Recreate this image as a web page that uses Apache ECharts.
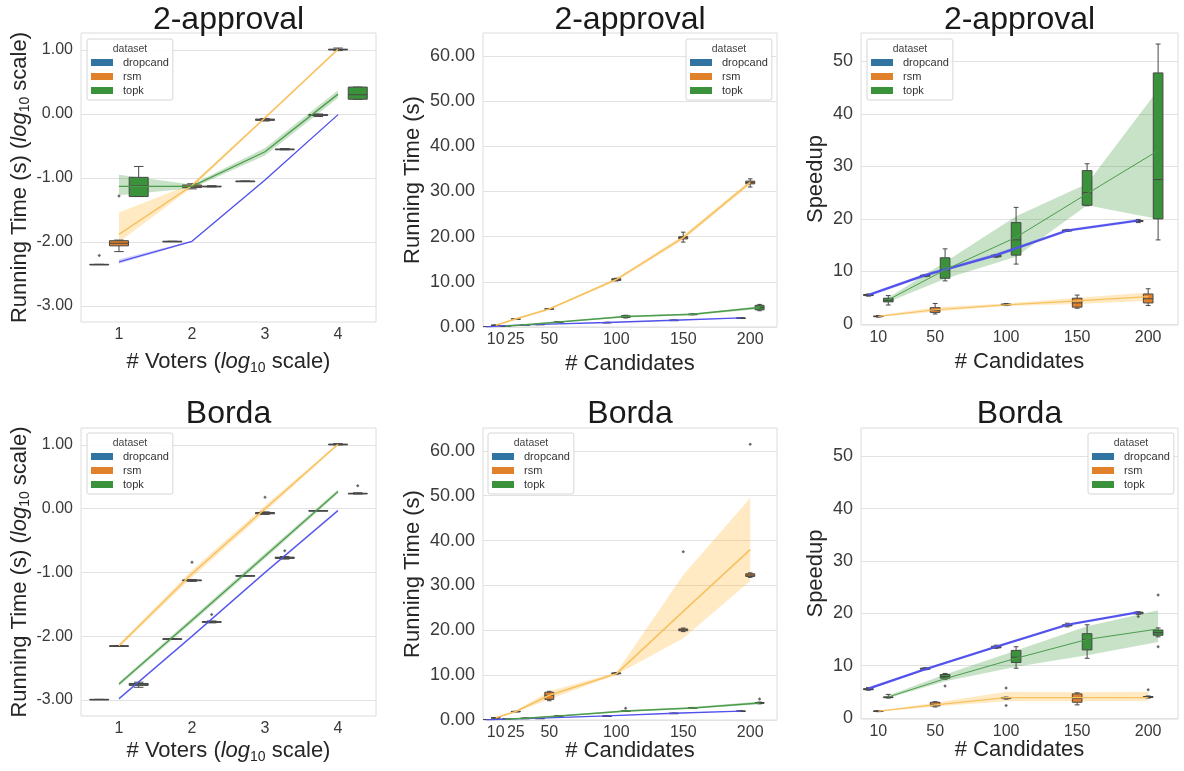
<!DOCTYPE html>
<html><head><meta charset="utf-8">
<script src="https://cdn.jsdelivr.net/npm/echarts@6/dist/echarts.min.js"></script>
<style>html,body{margin:0;padding:0;background:#fff}#c{width:1184px;height:771px}</style>
</head><body><div id="c"></div><script>
const DATASETS = ['dropcand', 'rsm', 'topk'];
const voterTicks = [1, 2, 3, 4];
const candTicks = [10, 25, 50, 100, 150, 200];
const speedTicks = [10, 50, 100, 150, 200];
const logTicks = [-3, -2, -1, 0, 1];
const timeTicks = [0, 10, 20, 30, 40, 50, 60];
const speedupTicks = [0, 10, 20, 30, 40, 50];

// ---- 2-approval, # voters (log10 running time)
const apvVotMean = { dropcand: [-2.31, -1.99, -1.03, -0.01], rsm: [-1.88, -1.12, -0.06, 1.01], topk: [-1.13, -1.13, -0.59, 0.31] };
const apvVotLo = { dropcand: [-2.34, -2.00, -1.04, -0.02], rsm: [-2.00, -1.15, -0.08, 0.99], topk: [-1.27, -1.16, -0.65, 0.25] };
const apvVotHi = { dropcand: [-2.27, -1.98, -1.02, 0.00], rsm: [-1.54, -1.09, -0.04, 1.03], topk: [-0.95, -1.10, -0.53, 0.37] };
const apvVotBox = {
  dropcand: [[-2.35, -2.35, -2.35, -2.35, -2.35], [-1.99, -1.99, -1.99, -1.99, -1.99], [-1.05, -1.05, -1.05, -1.05, -1.05], [-0.04, -0.02, -0.02, -0.01, 0.00]],
  rsm: [[-2.15, -2.06, -2.02, -1.98, -1.97], [-1.17, -1.15, -1.13, -1.11, -1.09], [-0.11, -0.10, -0.09, -0.08, -0.07], [0.99, 1.00, 1.01, 1.01, 1.03]],
  topk: [[-1.29, -1.29, -1.12, -0.99, -0.82], [-1.14, -1.13, -1.13, -1.13, -1.12], [-0.56, -0.55, -0.55, -0.55, -0.54], [0.23, 0.23, 0.30, 0.42, 0.42]]
};
const apvVotOut = { dropcand: [[1, -2.21]], rsm: [[1, -1.28]], topk: [] };

// ---- 2-approval, # candidates (running time)
const apvCandMean = { dropcand: [0.05, 0.30, 0.60, 1.00, 1.50, 2.00], rsm: [0.40, 1.80, 4.00, 10.50, 19.80, 32.00], topk: [0.15, 0.50, 1.10, 2.30, 2.80, 4.30] };
const apvCandLo = { dropcand: [0.03, 0.27, 0.55, 0.94, 1.44, 1.94], rsm: [0.30, 1.70, 3.80, 10.20, 19.30, 31.50], topk: [0.10, 0.40, 1.00, 2.10, 2.60, 4.00] };
const apvCandHi = { dropcand: [0.07, 0.33, 0.65, 1.06, 1.56, 2.06], rsm: [0.50, 1.90, 4.20, 10.80, 20.30, 32.50], topk: [0.20, 0.60, 1.20, 2.50, 3.00, 4.60] };
const apvCandBox = {
  dropcand: [[0.04, 0.05, 0.05, 0.05, 0.06], [0.28, 0.29, 0.30, 0.31, 0.32], [0.57, 0.59, 0.60, 0.61, 0.63], [0.95, 0.98, 1.00, 1.02, 1.05], [1.45, 1.48, 1.50, 1.52, 1.55], [1.95, 1.98, 2.00, 2.02, 2.05]],
  rsm: [[0.35, 0.38, 0.40, 0.42, 0.45], [1.75, 1.78, 1.80, 1.82, 1.85], [3.90, 3.95, 4.00, 4.05, 4.10], [10.2, 10.3, 10.5, 10.7, 10.8], [18.8, 19.5, 19.8, 20.0, 21.0], [31.0, 31.7, 32.0, 32.3, 32.8]],
  topk: [[0.13, 0.14, 0.15, 0.16, 0.17], [0.45, 0.48, 0.50, 0.52, 0.55], [1.00, 1.05, 1.10, 1.15, 1.20], [2.00, 2.10, 2.30, 2.50, 2.60], [2.70, 2.75, 2.80, 2.85, 2.90], [3.60, 3.80, 4.30, 4.80, 5.00]]
};
const apvCandOut = { dropcand: [], rsm: [], topk: [] };

// ---- 2-approval, speedup
const apvSpeedMean = { dropcand: [5.5, 9.3, 13.1, 17.8, 19.7], rsm: [1.45, 2.7, 3.65, 4.4, 5.2], topk: [4.6, 10.3, 16.5, 24.8, 33.0] };
const apvSpeedLo = { dropcand: [5.2, 9.0, 12.8, 17.5, 19.4], rsm: [1.3, 2.3, 3.4, 3.8, 4.4], topk: [4.2, 8.6, 12.8, 22.6, 20.0] };
const apvSpeedHi = { dropcand: [5.8, 9.6, 13.5, 18.1, 20.0], rsm: [1.6, 3.2, 3.9, 5.0, 6.0], topk: [5.0, 11.8, 20.5, 26.7, 44.6] };
const apvSpeedBox = {
  dropcand: [[5.3, 5.4, 5.5, 5.6, 5.7], [9.0, 9.1, 9.2, 9.3, 9.4], [12.7, 12.8, 12.9, 13.1, 13.2], [17.6, 17.7, 17.8, 17.9, 18.0], [19.3, 19.5, 19.6, 19.7, 19.9]],
  rsm: [[1.3, 1.4, 1.45, 1.5, 1.6], [1.9, 2.2, 2.6, 3.1, 3.9], [3.5, 3.6, 3.7, 3.8, 3.9], [3.0, 3.2, 4.0, 4.9, 5.5], [3.5, 4.0, 4.8, 5.7, 6.7]],
  topk: [[3.6, 4.2, 4.5, 4.9, 5.4], [8.2, 8.7, 10.3, 12.6, 14.3], [11.4, 13.1, 16.0, 19.3, 22.2], [22.5, 22.6, 25.0, 29.2, 30.5], [16.0, 20.0, 27.5, 47.8, 53.3]]
};
const apvSpeedOut = { dropcand: [], rsm: [], topk: [] };

// ---- Borda, # voters (log10 running time)
const bordaVotMean = { dropcand: [-2.98, -2.00, -1.00, -0.03], rsm: [-2.15, -1.02, 0.00, 1.01], topk: [-2.75, -1.75, -0.74, 0.27] };
const bordaVotLo = { dropcand: [-3.00, -2.02, -1.02, -0.05], rsm: [-2.18, -1.08, -0.05, 0.99], topk: [-2.78, -1.79, -0.78, 0.24] };
const bordaVotHi = { dropcand: [-2.96, -1.98, -0.98, -0.01], rsm: [-2.12, -0.96, 0.05, 1.03], topk: [-2.72, -1.71, -0.70, 0.30] };
const bordaVotBox = {
  dropcand: [[-2.99, -2.99, -2.99, -2.99, -2.99], [-2.04, -2.04, -2.04, -2.04, -2.04], [-1.05, -1.05, -1.05, -1.05, -1.05], [-0.03, -0.03, -0.03, -0.03, -0.03]],
  rsm: [[-2.15, -2.15, -2.15, -2.15, -2.15], [-1.14, -1.13, -1.12, -1.12, -1.11], [-0.09, -0.08, -0.07, -0.06, -0.05], [1.00, 1.01, 1.01, 1.01, 1.02]],
  topk: [[-2.80, -2.77, -2.75, -2.74, -2.72], [-1.79, -1.78, -1.78, -1.77, -1.76], [-0.79, -0.78, -0.77, -0.76, -0.75], [0.23, 0.24, 0.24, 0.24, 0.25]]
};
const bordaVotOut = { dropcand: [], rsm: [[2, -0.84], [3, 0.18]], topk: [[2, -1.66], [3, -0.66], [4, 0.36]] };

// ---- Borda, # candidates (running time)
const bordaCandMean = { dropcand: [0.05, 0.20, 0.40, 0.90, 1.50, 2.00], rsm: [0.50, 1.90, 5.50, 10.30, 24.20, 38.00], topk: [0.15, 0.40, 0.90, 2.00, 2.70, 3.80] };
const bordaCandLo = { dropcand: [0.03, 0.17, 0.35, 0.84, 1.44, 1.94], rsm: [0.40, 1.70, 4.60, 10.10, 18.20, 31.00], topk: [0.10, 0.30, 0.80, 1.80, 2.50, 3.50] };
const bordaCandHi = { dropcand: [0.07, 0.23, 0.45, 0.96, 1.56, 2.06], rsm: [0.60, 2.10, 6.40, 10.60, 32.30, 49.50], topk: [0.20, 0.50, 1.00, 2.20, 2.90, 4.10] };
const bordaCandBox = {
  dropcand: [[0.04, 0.05, 0.05, 0.05, 0.06], [0.18, 0.19, 0.20, 0.21, 0.22], [0.37, 0.39, 0.40, 0.41, 0.43], [0.85, 0.88, 0.90, 0.92, 0.95], [1.45, 1.48, 1.50, 1.52, 1.55], [1.95, 1.98, 2.00, 2.02, 2.05]],
  rsm: [[0.45, 0.48, 0.50, 0.52, 0.55], [1.85, 1.88, 1.90, 1.92, 1.95], [4.3, 4.6, 5.5, 6.2, 6.4], [10.2, 10.3, 10.4, 10.5, 10.6], [19.7, 19.9, 20.1, 20.3, 20.5], [31.8, 32.0, 32.3, 32.6, 32.8]],
  topk: [[0.13, 0.14, 0.15, 0.16, 0.17], [0.37, 0.39, 0.40, 0.41, 0.43], [0.85, 0.88, 0.90, 0.92, 0.95], [1.90, 1.95, 2.00, 2.05, 2.10], [2.60, 2.65, 2.70, 2.75, 2.80], [3.60, 3.70, 3.80, 3.90, 4.00]]
};
const bordaCandOut = { dropcand: [], rsm: [[150, 37.5], [200, 61.5]], topk: [[100, 2.6], [200, 4.7]] };

// ---- Borda, speedup
const bordaSpeedMean = { dropcand: [5.6, 9.3, 13.6, 17.8, 20.2], rsm: [1.3, 2.5, 3.9, 3.9, 3.9], topk: [4.0, 7.5, 11.4, 15.0, 17.0] };
const bordaSpeedLo = { dropcand: [5.35, 9.05, 13.35, 17.55, 19.95], rsm: [1.2, 2.2, 3.2, 3.2, 3.3], topk: [3.8, 7.0, 9.8, 12.0, 14.5] };
const bordaSpeedHi = { dropcand: [5.85, 9.55, 13.85, 18.05, 20.45], rsm: [1.4, 2.9, 5.0, 4.9, 5.0], topk: [4.3, 8.3, 12.9, 17.5, 20.6] };
const bordaSpeedBox = {
  dropcand: [[5.3, 5.4, 5.5, 5.6, 5.8], [9.2, 9.3, 9.4, 9.5, 9.6], [13.3, 13.4, 13.5, 13.7, 13.9], [17.4, 17.6, 17.7, 17.8, 18.1], [19.8, 19.9, 20.1, 20.2, 20.3]],
  rsm: [[1.2, 1.25, 1.3, 1.35, 1.4], [2.1, 2.3, 2.6, 3.0, 3.1], [3.6, 3.7, 3.8, 3.9, 4.0], [2.5, 3.0, 3.7, 4.6, 4.8], [3.8, 3.9, 4.0, 4.1, 4.2]],
  topk: [[3.8, 3.9, 4.0, 4.0, 4.5], [7.4, 7.6, 7.9, 8.3, 8.5], [9.5, 10.6, 11.6, 12.9, 13.6], [11.4, 13.0, 15.0, 16.1, 17.8], [15.5, 15.8, 16.3, 16.8, 17.2]]
};
const bordaSpeedOut = { dropcand: [[200, 19.4]], rsm: [[100, 5.7], [100, 2.4], [200, 5.4]], topk: [[50, 6.1], [200, 23.5], [200, 13.6]] };

// ---------------- styling ----------------
const FONT = "'Liberation Sans', Arial, Helvetica, sans-serif";
const BOX_COLORS = { dropcand: '#3274a1', rsm: '#e1812c', topk: '#3a923a' };
const LINE_COLORS = { dropcand: '#5151ec', rsm: '#f8c160', topk: '#4c9c4c' };
const BAND_COLORS = { dropcand: 'rgba(70,70,255,0.22)', rsm: 'rgba(255,170,20,0.25)', topk: 'rgba(30,140,30,0.25)' };
const EDGE = '#474747';

const KINDS = {
  voters: { xMin: 0.48, xMax: 4.52, yMin: -3.25, yMax: 1.265, yTicks: logTicks, fmt: v => v.toFixed(2), dodge: 0.27, boxW: 0.26, lineDodge: false,
    xName: '# Voters ({i|log}{s|10} scale)', yName: 'Running Time (s) ({i|log}{s|10} scale)', yNameGap: 46, xNameGap: 27, yLabelSize: 16,
    lineW: { dropcand: 1.3, rsm: 1.5, topk: 1.3 } },
  time: { xMin: 0.5, xMax: 220, yMin: 0, yMax: 65.1, yTicks: timeTicks, fmt: v => v.toFixed(2), dodge: 7, boxW: 6.7, lineDodge: true,
    xName: '# Candidates', yName: 'Running Time (s)', yNameGap: 48, xNameGap: 24, yLabelSize: 18,
    lineW: { dropcand: 1.3, rsm: 1.6, topk: 1.5 } },
  speed: { xMin: -2.2, xMax: 221, yMin: -0.2, yMax: 55.4, yTicks: speedupTicks, fmt: v => String(v), dodge: 7, boxW: 6.8, lineDodge: true,
    xName: '# Candidates', yName: 'Speedup', yNameGap: 29, xNameGap: 24, yLabelSize: 18,
    lineW: { dropcand: 2.2, rsm: 1.2, topk: 1.0 } }
};

const panels = [
  { title: '2-approval', kind: 'voters', cats: voterTicks, mean: apvVotMean, lo: apvVotLo, hi: apvVotHi, box: apvVotBox, out: apvVotOut,
    grid: { left: 81, top: 33, width: 295, height: 289 }, legend: { left: 87, top: 39 }, titleY: 31, nameShift: 0 },
  { title: '2-approval', kind: 'time', cats: candTicks, mean: apvCandMean, lo: apvCandLo, hi: apvCandHi, box: apvCandBox, out: apvCandOut,
    grid: { left: 483, top: 33, width: 294, height: 294 }, legend: { left: 686, top: 39 }, titleY: 31, nameShift: 0 },
  { title: '2-approval', kind: 'speed', cats: speedTicks, mean: apvSpeedMean, lo: apvSpeedLo, hi: apvSpeedHi, box: apvSpeedBox, out: apvSpeedOut,
    grid: { left: 861, top: 33, width: 317, height: 292 }, legend: { left: 867, top: 39 }, titleY: 31, nameShift: 0 },
  { title: 'Borda', kind: 'voters', cats: voterTicks, mean: bordaVotMean, lo: bordaVotLo, hi: bordaVotHi, box: bordaVotBox, out: bordaVotOut,
    grid: { left: 81, top: 428, width: 295, height: 288 }, legend: { left: 87, top: 433 }, titleY: 425, nameShift: -5 },
  { title: 'Borda', kind: 'time', cats: candTicks, mean: bordaCandMean, lo: bordaCandLo, hi: bordaCandHi, box: bordaCandBox, out: bordaCandOut,
    grid: { left: 483, top: 428, width: 294, height: 292 }, legend: { left: 488, top: 433 }, titleY: 425, nameShift: -6 },
  { title: 'Borda', kind: 'speed', cats: speedTicks, mean: bordaSpeedMean, lo: bordaSpeedLo, hi: bordaSpeedHi, box: bordaSpeedBox, out: bordaSpeedOut,
    grid: { left: 861, top: 428, width: 317, height: 291 }, legend: { left: 1088, top: 433 }, titleY: 425, nameShift: -6 }
];

function offsets(k) { return { dropcand: -k.dodge, rsm: 0, topk: k.dodge }; }

function boxRender(k) {
  return function (params, api) {
    const x = api.value(0), mn = api.value(1), q1 = api.value(2), md = api.value(3), q3 = api.value(4), mx = api.value(5);
    const hw = k.boxW / 2;
    const color = api.visual('color');
    const a = api.coord([x - hw, q3]), b = api.coord([x + hw, q1]);
    const top = api.coord([x, mx]), bot = api.coord([x, mn]);
    const c1 = api.coord([x - hw / 2, mx]), c2 = api.coord([x + hw / 2, mx]);
    const c3 = api.coord([x - hw / 2, mn]), c4 = api.coord([x + hw / 2, mn]);
    const m1 = api.coord([x - hw, md]), m2 = api.coord([x + hw, md]);
    const st = () => ({ stroke: EDGE, lineWidth: 1 });
    return { type: 'group', children: [
      { type: 'line', shape: { x1: top[0], y1: top[1], x2: top[0], y2: a[1] }, style: st() },
      { type: 'line', shape: { x1: bot[0], y1: b[1], x2: bot[0], y2: bot[1] }, style: st() },
      { type: 'line', shape: { x1: c1[0], y1: c1[1], x2: c2[0], y2: c2[1] }, style: st() },
      { type: 'line', shape: { x1: c3[0], y1: c3[1], x2: c4[0], y2: c4[1] }, style: st() },
      { type: 'rect', shape: { x: a[0], y: a[1], width: b[0] - a[0], height: Math.max(b[1] - a[1], 0.6) }, style: { fill: color, stroke: EDGE, lineWidth: 1 } },
      { type: 'line', shape: { x1: m1[0], y1: m1[1], x2: m2[0], y2: m2[1] }, style: st() }
    ] };
  };
}

function bandRender(xs, lo, hi) {
  return function (params, api) {
    const pts = [];
    for (let i = 0; i < xs.length; i++) pts.push(api.coord([xs[i], hi[i]]));
    for (let i = xs.length - 1; i >= 0; i--) pts.push(api.coord([xs[i], lo[i]]));
    return { type: 'polygon', shape: { points: pts }, style: { fill: api.visual('color') } };
  };
}

const nameRich = {
  i: { fontStyle: 'italic', fontSize: 22, fontFamily: FONT, color: '#262626', lineHeight: 26 },
  s: { fontSize: 14, fontFamily: FONT, color: '#262626', lineHeight: 9, verticalAlign: 'bottom' }
};

const grids = [], xAxes = [], yAxes = [], series = [], legends = [], graphics = [];

panels.forEach((p, idx) => {
  const k = KINDS[p.kind];
  const off = offsets(k);
  grids.push(Object.assign({ show: true, borderColor: '#dcdcdc', borderWidth: 1, backgroundColor: '#fff', containLabel: false, outerBoundsMode: 'none' }, p.grid));
  xAxes.push({
    gridIndex: idx, type: 'value', min: k.xMin, max: k.xMax,
    axisLine: { show: false }, axisTick: { show: false, customValues: p.cats },
    axisLabel: { customValues: p.cats, fontSize: 16, color: '#3a3a3a', fontFamily: FONT, margin: 5 },
    splitLine: { show: false },
    name: k.xName, nameLocation: 'middle', nameGap: k.xNameGap + p.nameShift, nameMoveOverlap: false,
    nameTextStyle: { fontSize: 22, fontFamily: FONT, color: '#262626', lineHeight: 26, rich: nameRich }
  });
  yAxes.push({
    gridIndex: idx, type: 'value', min: k.yMin, max: k.yMax,
    axisLine: { show: false }, axisTick: { show: false, customValues: k.yTicks },
    axisLabel: { customValues: k.yTicks, formatter: k.fmt, fontSize: k.yLabelSize, color: '#3a3a3a', fontFamily: FONT, margin: 8 },
    splitLine: { show: true, lineStyle: { color: '#e2e2e2', width: 1 } },
    name: k.yName, nameLocation: 'middle', nameGap: k.yNameGap,
    nameTextStyle: { fontSize: 22, fontFamily: FONT, color: '#262626', lineHeight: 26, rich: nameRich }
  });

  // boxes first (legend picks their colours)
  DATASETS.forEach(ds => {
    series.push({
      type: 'custom', name: ds, xAxisIndex: idx, yAxisIndex: idx, z: 3, clip: true, silent: true,
      itemStyle: { color: BOX_COLORS[ds] },
      encode: { x: 0, y: [1, 2, 3, 4, 5] },
      data: p.box[ds].map((b, i) => [p.cats[i] + off[ds]].concat(b)),
      renderItem: boxRender(k)
    });
  });
  DATASETS.forEach(ds => {
    const xs = p.cats.map(c => c + (k.lineDodge ? off[ds] : 0));
    series.push({
      type: 'custom', name: ds + ' CI', xAxisIndex: idx, yAxisIndex: idx, z: 2, clip: true, silent: true,
      itemStyle: { color: BAND_COLORS[ds] },
      encode: { x: 0, y: 1 },
      data: [[xs[0], p.lo[ds][0]]],
      renderItem: bandRender(xs, p.lo[ds], p.hi[ds])
    });
    series.push({
      type: 'line', name: ds + ' mean', xAxisIndex: idx, yAxisIndex: idx, z: 4, silent: true,
      showSymbol: false, symbol: 'none',
      lineStyle: { color: LINE_COLORS[ds], width: k.lineW[ds] },
      itemStyle: { color: LINE_COLORS[ds] },
      data: xs.map((x, i) => [x, p.mean[ds][i]])
    });
    if (p.out[ds].length) {
      series.push({
        type: 'scatter', name: ds + ' outliers', xAxisIndex: idx, yAxisIndex: idx, z: 5, silent: true,
        symbol: 'diamond', symbolSize: 3.5, itemStyle: { color: '#444' },
        data: p.out[ds].map(o => [o[0] + off[ds], o[1]])
      });
    }
  });

  legends.push({
    data: DATASETS, orient: 'vertical', left: p.legend.left, top: p.legend.top,
    icon: 'rect', itemWidth: 22, itemHeight: 7, itemGap: 3, padding: [18, 4, 4, 4],
    backgroundColor: 'rgba(255,255,255,0.85)', borderColor: '#d6d6d6', borderWidth: 1, borderRadius: 2,
    selectedMode: false, itemStyle: { borderWidth: 0 },
    textStyle: { fontSize: 11, color: '#333', fontFamily: FONT, padding: [0, 0, 0, 5] }
  });
  graphics.push({
    type: 'text', x: p.legend.left + 43, y: p.legend.top + 10, silent: true, z: 100, zlevel: 0,
    style: { text: 'dataset', font: '10.5px ' + FONT, fill: '#444', align: 'center', verticalAlign: 'middle', textAlign: 'center', textVerticalAlign: 'middle' }
  });
  graphics.push({
    type: 'text', x: p.grid.left + p.grid.width / 2, y: p.titleY - 11, silent: true, z: 100,
    style: { text: p.title, font: '32px ' + FONT, fill: '#1a1a1a', align: 'center', verticalAlign: 'middle', textAlign: 'center', textVerticalAlign: 'middle' }
  });
});

const chart = echarts.init(document.getElementById('c'), null, { renderer: 'canvas' });
chart.setOption({
  animation: false,
  backgroundColor: '#ffffff',
  grid: grids, xAxis: xAxes, yAxis: yAxes, series: series, legend: legends,
  graphic: { elements: graphics }
});
</script></body></html>
